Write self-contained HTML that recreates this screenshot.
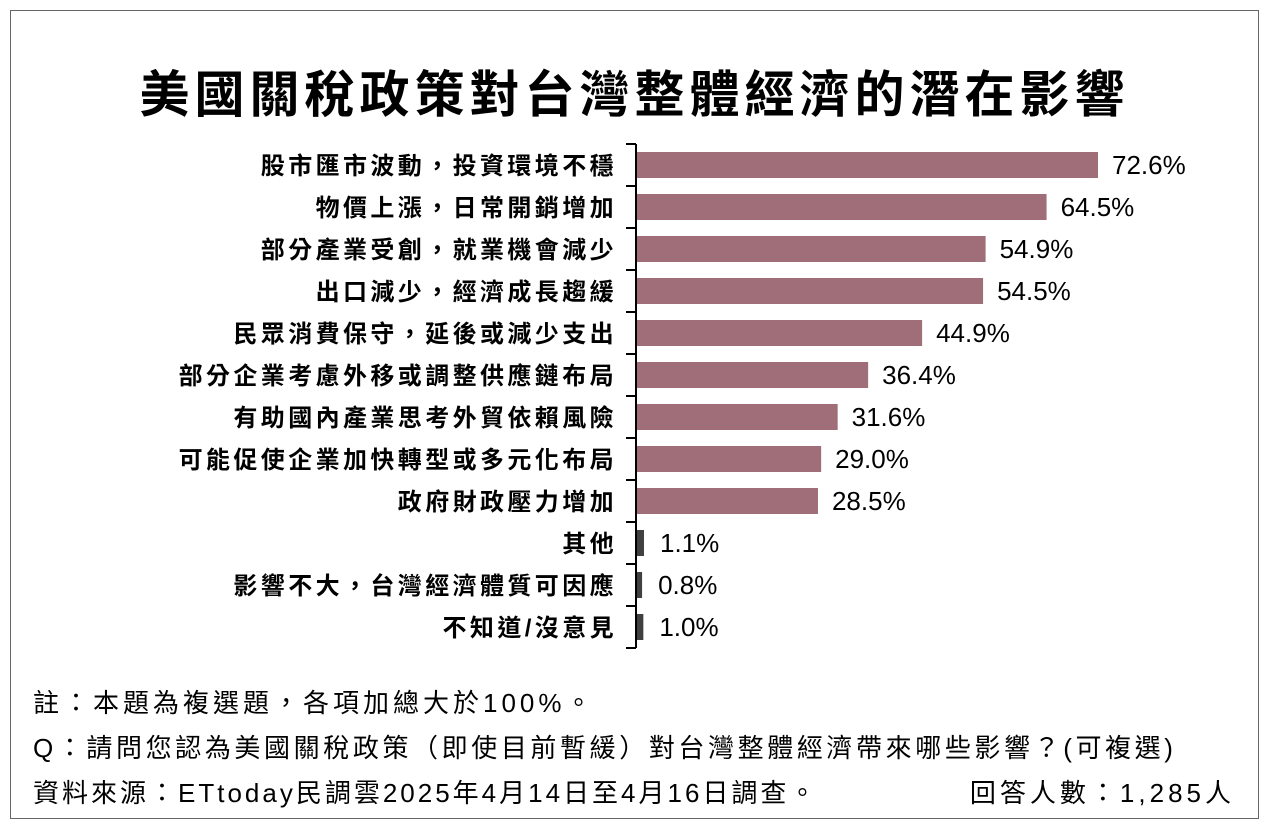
<!DOCTYPE html>
<html><head><meta charset="utf-8">
<style>
body{margin:0;background:#fff;width:1269px;height:829px;overflow:hidden;font-family:"Liberation Sans","Noto Sans CJK TC",sans-serif;}
#frame{position:absolute;left:10px;top:10px;width:1247px;height:807px;border:1px solid #666;}
#title{position:absolute;left:0;width:1269px;top:55px;text-align:center;font-size:50px;font-weight:bold;color:#000;letter-spacing:5px;}
.foot{position:absolute;font-size:26px;color:#000;letter-spacing:4px;white-space:nowrap;}
</style></head><body>
<div id="frame"></div>
<div id="title">美國關稅政策對台灣整體經濟的潛在影響</div>
<svg id="chart" width="1269" height="829" style="position:absolute;left:0;top:0"></svg>
<div class="foot" style="left:33px;top:683px">註：本題為複選題，各項加總大於100%。</div>
<div class="foot" style="left:33px;top:728px;letter-spacing:3.6px">Q：請問您認為美國關稅政策（即使目前暫緩）對台灣整體經濟帶來哪些影響？(可複選)</div>
<div class="foot" style="left:33px;top:773px;letter-spacing:3px">資料來源：ETtoday民調雲2025年4月14日至4月16日調查。</div>
<div class="foot" style="right:34px;top:773px">回答人數：1,285人</div>
<script>
const categories=["股市匯市波動，投資環境不穩","物價上漲，日常開銷增加","部分產業受創，就業機會減少","出口減少，經濟成長趨緩","民眾消費保守，延後或減少支出","部分企業考慮外移或調整供應鏈布局","有助國內產業思考外貿依賴風險","可能促使企業加快轉型或多元化布局","政府財政壓力增加","其他","影響不大，台灣經濟體質可因應","不知道/沒意見"];
const values=[72.6,64.5,54.9,54.5,44.9,36.4,31.6,29.0,28.5,1.1,0.8,1.0];
const valueLabels=["72.6%","64.5%","54.9%","54.5%","44.9%","36.4%","31.6%","29.0%","28.5%","1.1%","0.8%","1.0%"];
const NS="http://www.w3.org/2000/svg";
const svg=document.getElementById('chart');
const x0=637,scale=(1098-637)/72.6,top0=144,rowH=42,barH=26;
const xs=v=>x0+v*scale;
const yRow=i=>top0+i*rowH;
function mk(t,a){const e=document.createElementNS(NS,t);for(const k in a)e.setAttribute(k,a[k]);svg.appendChild(e);return e;}
const axis=mk('line',{x1:636,y1:top0,x2:636,y2:yRow(categories.length),stroke:'#000','stroke-width':2});


for(let i=0;i<=categories.length;i++){
 const t=mk('line',{x1:626,x2:636,y1:yRow(i),y2:yRow(i),stroke:'#000','stroke-width':2});
 
 
}
categories.forEach((c,i)=>{
 const yc=yRow(i)+rowH/2;
 const small=values[i]<5;
 const r=mk('rect',{x:x0,y:yc-barH/2,width:Math.max(xs(values[i])-x0,2),height:barH,fill:small?'#404040':'#a06e78'});
 
 
 const l=mk('text',{x:617,y:yc+9,'text-anchor':'end','font-size':24,'font-weight':'bold','letter-spacing':3.4,fill:'#000'});
 l.textContent=c;
 
 
 const v=mk('text',{x:xs(values[i])+(small?16:14),y:yc+9,'font-size':26,fill:'#000'});
 v.textContent=valueLabels[i];
 
 
});
</script>
</body></html>
